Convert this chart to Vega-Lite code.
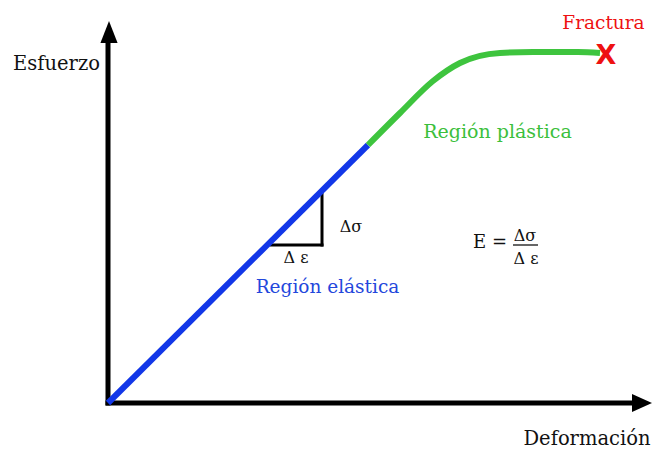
{
  "$schema": "https://vega.github.io/schema/vega-lite/v6.json",
  "width": 657,
  "height": 450,
  "autosize": {"type": "fit", "contains": "padding"},
  "padding": 0,
  "background": "white",
  "config": {"view": {"stroke": null}},
  "datasets": {
    "segments": [
      {"role": "axis", "x": 0, "y": 0, "x2": 526, "y2": 0},
      {"role": "axis", "x": 0, "y": 0, "x2": 0, "y2": 360},
      {"role": "tri", "x": 162, "y": 158, "x2": 215.5, "y2": 158},
      {"role": "tri", "x": 214, "y": 156.5, "x2": 214, "y2": 213},
      {"role": "frac", "x": 405, "y": 158, "x2": 430, "y2": 158}
    ],
    "heads": [
      {"dir": "up", "x": 1, "y": 371},
      {"dir": "right", "x": 534, "y": 0}
    ],
    "elastic": [
      {"x": 0, "y": 0},
      {"x": 260, "y": 258}
    ],
    "plastic": [
      {"x": 260, "y": 258},
      {"x": 292, "y": 290},
      {"x": 325, "y": 322},
      {"x": 352, "y": 340},
      {"x": 392, "y": 350},
      {"x": 425, "y": 351},
      {"x": 470, "y": 351},
      {"x": 492, "y": 350}
    ],
    "labels": [
      {"role": "axis", "label": "Esfuerzo", "x": -51.5, "y": 333},
      {"role": "axis", "label": "Deformación", "x": 479, "y": -42},
      {"role": "red", "label": "Fractura", "x": 495.5, "y": 374},
      {"role": "green", "label": "Región plástica", "x": 389.5, "y": 265},
      {"role": "blue", "label": "Región elástica", "x": 219.5, "y": 110},
      {"role": "delta", "label": "Δσ", "x": 243, "y": 171},
      {"role": "delta", "label": "Δ ε", "x": 188, "y": 140},
      {"role": "delta", "label": "Δσ", "x": 417, "y": 162},
      {"role": "delta", "label": "Δ ε", "x": 418, "y": 139},
      {"role": "eq", "label": "E =", "x": 382, "y": 155}
    ],
    "fracture": [
      {"label": "X", "x": 498, "y": 339}
    ]
  },
  "encoding": {
    "x": {"field": "x", "type": "quantitative", "scale": {"domain": [-108, 549], "nice": false, "zero": false}, "axis": null},
    "y": {"field": "y", "type": "quantitative", "scale": {"domain": [-47, 403], "nice": false, "zero": false}, "axis": null}
  },
  "layer": [
    {
      "data": {"name": "segments"},
      "transform": [{"filter": "datum.role === 'axis'"}],
      "mark": {"type": "rule", "color": "black", "strokeWidth": 5, "strokeCap": "square"},
      "encoding": {"x2": {"field": "x2"}, "y2": {"field": "y2"}}
    },
    {
      "data": {"name": "segments"},
      "transform": [{"filter": "datum.role === 'tri'"}],
      "mark": {"type": "rule", "color": "black", "strokeWidth": 3},
      "encoding": {"x2": {"field": "x2"}, "y2": {"field": "y2"}}
    },
    {
      "data": {"name": "segments"},
      "transform": [{"filter": "datum.role === 'frac'"}],
      "mark": {"type": "rule", "color": "black", "strokeWidth": 1.2},
      "encoding": {"x2": {"field": "x2"}, "y2": {"field": "y2"}}
    },
    {
      "data": {"name": "heads"},
      "transform": [{"filter": "datum.dir === 'up'"}],
      "mark": {"type": "point", "shape": "M0,-1L-0.78,1L0.78,1Z", "size": 484, "filled": true, "color": "black", "opacity": 1}
    },
    {
      "data": {"name": "heads"},
      "transform": [{"filter": "datum.dir === 'right'"}],
      "mark": {"type": "point", "shape": "M1,0L-1,-0.9L-1,0.9Z", "size": 400, "filled": true, "color": "black", "opacity": 1}
    },
    {
      "data": {"name": "elastic"},
      "mark": {"type": "line", "color": "#1237e8", "strokeWidth": 6, "strokeCap": "butt"}
    },
    {
      "data": {"name": "plastic"},
      "mark": {"type": "line", "color": "#3ec43e", "strokeWidth": 6, "strokeCap": "butt", "interpolate": "monotone"}
    },
    {
      "data": {"name": "fracture"},
      "mark": {"type": "text", "font": "DejaVu Sans", "fontWeight": "bold", "fontSize": 27, "color": "#ee1111", "align": "center", "baseline": "alphabetic"},
      "encoding": {"text": {"field": "label"}}
    },
    {
      "data": {"name": "labels"},
      "transform": [{"filter": "datum.role === 'axis'"}],
      "mark": {"type": "text", "font": "DejaVu Serif", "fontSize": 19.5, "color": "#111111", "align": "center", "baseline": "alphabetic"},
      "encoding": {"text": {"field": "label"}}
    },
    {
      "data": {"name": "labels"},
      "transform": [{"filter": "datum.role === 'red'"}],
      "mark": {"type": "text", "font": "DejaVu Serif", "fontSize": 18.5, "color": "#ee1111", "align": "center", "baseline": "alphabetic"},
      "encoding": {"text": {"field": "label"}}
    },
    {
      "data": {"name": "labels"},
      "transform": [{"filter": "datum.role === 'green'"}],
      "mark": {"type": "text", "font": "DejaVu Serif", "fontSize": 19, "color": "#3cbf3c", "align": "center", "baseline": "alphabetic"},
      "encoding": {"text": {"field": "label"}}
    },
    {
      "data": {"name": "labels"},
      "transform": [{"filter": "datum.role === 'blue'"}],
      "mark": {"type": "text", "font": "DejaVu Serif", "fontSize": 18.5, "color": "#2347dc", "align": "center", "baseline": "alphabetic"},
      "encoding": {"text": {"field": "label"}}
    },
    {
      "data": {"name": "labels"},
      "transform": [{"filter": "datum.role === 'delta'"}],
      "mark": {"type": "text", "font": "DejaVu Serif", "fontSize": 16, "color": "#111111", "align": "center", "baseline": "alphabetic"},
      "encoding": {"text": {"field": "label"}}
    },
    {
      "data": {"name": "labels"},
      "transform": [{"filter": "datum.role === 'eq'"}],
      "mark": {"type": "text", "font": "DejaVu Serif", "fontSize": 18, "color": "#111111", "align": "center", "baseline": "alphabetic"},
      "encoding": {"text": {"field": "label"}}
    }
  ]
}
